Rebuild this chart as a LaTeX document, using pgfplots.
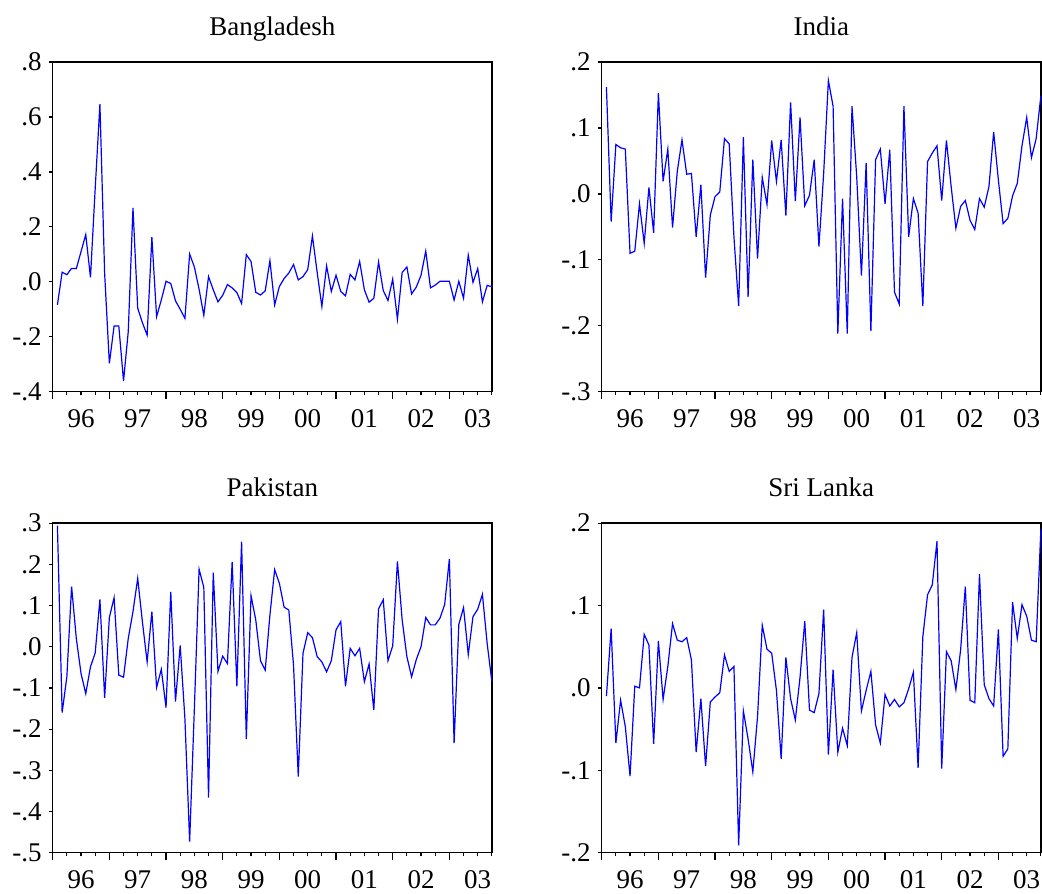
\documentclass[border=0pt]{standalone}
\usepackage{fontspec}
\setmainfont{Liberation Serif}
\usepackage{pgfplots}
\usepackage{pgfplotstable}
\pgfplotsset{compat=1.18}
\newcommand{\lblfont}{\fontsize{13.5}{16}\selectfont}

% monthly returns, m = months after 1996M1
\pgfplotstableread{
m bd ind pk sl
1 -0.084 0.162 0.294 -0.010
2 0.035 -0.042 -0.160 0.072
3 0.026 0.075 -0.073 -0.067
4 0.049 0.070 0.146 -0.015
5 0.048 0.068 0.020 -0.047
6 0.110 -0.090 -0.065 -0.107
7 0.172 -0.087 -0.114 0.002
8 0.016 -0.015 -0.049 0.000
9 0.340 -0.075 -0.015 0.065
10 0.647 0.010 0.115 0.052
11 0.030 -0.059 -0.124 -0.068
12 -0.297 0.153 0.071 0.057
13 -0.161 0.019 0.119 -0.014
14 -0.161 0.068 -0.069 0.026
15 -0.361 -0.051 -0.074 0.078
16 -0.181 0.034 0.020 0.058
17 0.269 0.082 0.085 0.056
18 -0.096 0.030 0.166 0.061
19 -0.149 0.031 0.060 0.034
20 -0.194 -0.065 -0.037 -0.078
21 0.163 0.014 0.085 -0.013
22 -0.127 -0.127 -0.099 -0.095
23 -0.066 -0.032 -0.055 -0.017
24 0.002 -0.004 -0.148 -0.011
25 -0.006 0.003 0.133 -0.006
26 -0.069 0.084 -0.133 0.040
27 -0.100 0.076 0.003 0.020
28 -0.133 -0.065 -0.175 0.026
29 0.101 -0.170 -0.473 -0.191
30 0.054 0.086 -0.150 -0.028
31 -0.027 -0.156 0.188 -0.062
32 -0.122 0.052 0.144 -0.102
33 0.019 -0.098 -0.366 -0.035
34 -0.029 0.025 0.180 0.076
35 -0.073 -0.016 -0.060 0.047
36 -0.049 0.081 -0.023 0.042
37 -0.010 0.019 -0.041 -0.003
38 -0.022 0.082 0.206 -0.086
39 -0.039 -0.033 -0.096 0.037
40 -0.079 0.139 0.255 -0.013
41 0.099 -0.011 -0.224 -0.039
42 0.074 0.116 0.124 0.013
43 -0.038 -0.018 0.065 0.081
44 -0.048 -0.002 -0.034 -0.027
45 -0.033 0.052 -0.057 -0.030
46 0.077 -0.080 0.077 -0.007
47 -0.084 0.031 0.187 0.095
48 -0.017 0.172 0.154 -0.081
49 0.012 0.133 0.096 0.022
50 0.032 -0.212 0.089 -0.078
51 0.063 -0.007 -0.045 -0.049
52 0.007 -0.212 -0.315 -0.070
53 0.019 0.133 -0.016 0.037
54 0.044 0.026 0.034 0.067
55 0.167 -0.124 0.022 -0.028
56 0.035 0.047 -0.024 -0.003
57 -0.090 -0.208 -0.037 0.020
58 0.058 0.052 -0.061 -0.045
59 -0.035 0.068 -0.034 -0.067
60 0.024 -0.015 0.041 -0.008
61 -0.035 0.067 0.061 -0.022
62 -0.051 -0.149 -0.096 -0.014
63 0.027 -0.167 -0.004 -0.023
64 0.007 0.133 -0.022 -0.018
65 0.074 -0.065 -0.004 -0.001
66 -0.029 -0.007 -0.085 0.019
67 -0.074 -0.029 -0.042 -0.097
68 -0.060 -0.170 -0.154 0.062
69 0.072 0.049 0.092 0.113
70 -0.032 0.062 0.114 0.125
71 -0.068 0.073 -0.034 0.178
72 0.010 -0.010 0.002 -0.098
73 -0.136 0.081 0.207 0.044
74 0.034 0.011 0.065 0.033
75 0.054 -0.052 -0.024 -0.002
76 -0.044 -0.019 -0.073 0.046
77 -0.019 -0.010 -0.031 0.123
78 0.024 -0.040 0.000 -0.015
79 0.112 -0.054 0.071 -0.018
80 -0.022 -0.007 0.053 0.138
81 -0.012 -0.020 0.053 0.004
82 0.002 0.011 0.069 -0.013
83 0.002 0.094 0.102 -0.022
84 0.002 0.021 0.213 0.071
85 -0.066 -0.045 -0.234 -0.083
86 0.002 -0.037 0.054 -0.074
87 -0.060 -0.003 0.095 0.104
88 0.097 0.016 -0.019 0.060
89 -0.002 0.073 0.073 0.101
90 0.048 0.116 0.091 0.087
91 -0.073 0.055 0.127 0.058
92 -0.013 0.084 0.008 0.056
93 -0.018 0.149 -0.085 0.193
}\rets

\pgfplotsset{
  panel/.style={
    scale only axis,
    width=219.6pt, height=164.8pt,
    anchor=south west,
    xmin=0, xmax=93,
    % labels sit mid-year, year boundaries get the long ticks
    xtick={6,18,...,90},
    xticklabels={96,97,98,99,00,01,02,03},
    minor xtick={3,6,...,93},
    extra x ticks={0,12,...,84},
    extra x tick labels={},
    extra x tick style={major tick length=3.6pt},
    tick pos=left,
    tick align=outside,
    major tick length=1.8pt,
    minor tick length=1.8pt,
    every tick/.style={black, line width=0.6pt},
    axis line style={line width=0.75pt},
    tick label style={font=\lblfont},
    xticklabel style={anchor=base, yshift=-16.2pt},
    yticklabel style={anchor=east, inner sep=0pt, xshift=-3.5pt},
    title style={font=\lblfont, at={(0.5,1)}, anchor=base, yshift=7.3pt},
    clip=false,
  },
  ret/.style={blue, line width=0.6pt, mark=none},
}

\begin{document}
\begin{tikzpicture}
\useasboundingbox (0,0) rectangle (521pt,446.5pt);

\begin{axis}[panel, at={(26.35pt,250.65pt)}, title={Bangladesh},
  ymin=-0.4, ymax=0.8, ytick={-0.4,-0.2,0,0.2,0.4,0.6,0.8},
  yticklabels={-.4,-.2,.0,.2,.4,.6,.8}]
\addplot[ret] table[x=m, y=bd] {\rets};
\end{axis}

\begin{axis}[panel, at={(300.85pt,250.65pt)}, title={India},
  ymin=-0.3, ymax=0.2, ytick={-0.3,-0.2,-0.1,0,0.1,0.2},
  yticklabels={-.3,-.2,-.1,.0,.1,.2}]
\addplot[ret] table[x=m, y=ind] {\rets};
\end{axis}

\begin{axis}[panel, at={(26.35pt,20.15pt)}, title={Pakistan},
  ymin=-0.5, ymax=0.3, ytick={-0.5,-0.4,-0.3,-0.2,-0.1,0,0.1,0.2,0.3},
  yticklabels={-.5,-.4,-.3,-.2,-.1,.0,.1,.2,.3}]
\addplot[ret] table[x=m, y=pk] {\rets};
\end{axis}

\begin{axis}[panel, at={(300.85pt,20.15pt)}, title={Sri Lanka},
  ymin=-0.2, ymax=0.2, ytick={-0.2,-0.1,0,0.1,0.2},
  yticklabels={-.2,-.1,.0,.1,.2}]
\addplot[ret] table[x=m, y=sl] {\rets};
\end{axis}
\end{tikzpicture}
\end{document}
